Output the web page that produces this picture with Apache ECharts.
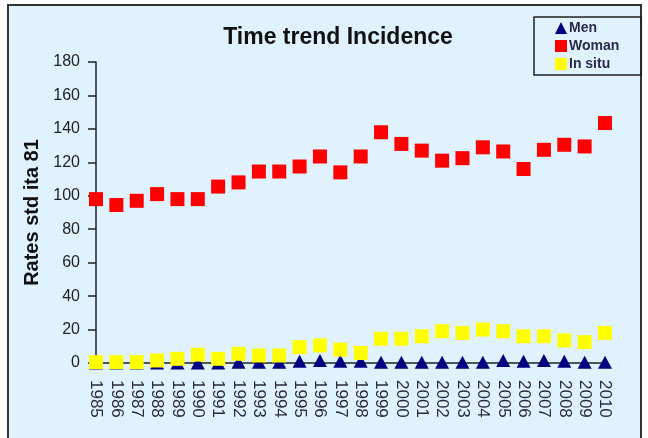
<!DOCTYPE html>
<html>
<head>
<meta charset="utf-8">
<script src="https://cdn.jsdelivr.net/npm/echarts@6/dist/echarts.min.js"></script>
<style>
  html, body { margin: 0; padding: 0; background: #ffffff; }
  #chart { width: 648px; height: 438px; }
</style>
</head>
<body>
<div id="chart"></div>
<script>
// Years on the category axis
const years = ['1985','1986','1987','1988','1989','1990','1991','1992','1993','1994',
  '1995','1996','1997','1998','1999','2000','2001','2002','2003','2004',
  '2005','2006','2007','2008','2009','2010'];

// Standardised incidence rates
const menRates = [0, 0, 0, 0, 0, 0, 0, 0.5, 0.5, 0.5,
  1, 1.5, 1, 1, 0.5, 0.5, 0.5, 0.5, 0.5, 0.5,
  1.5, 1, 1.5, 1, 0.5, 0.5];
const womanRates = [98, 94.5, 97, 101, 98, 98, 105.5, 108, 114.5, 114.5,
  117.5, 123.5, 114, 123.5, 138, 131, 127, 121, 122.5, 129,
  126.5, 116, 127.5, 130.5, 129.5, 143.5];
const inSituRates = [0.5, 0.5, 0.5, 1.5, 2.5, 5, 2.5, 5.5, 4.5, 4.5,
  9.5, 10.5, 8, 6, 14.5, 14.5, 16, 19, 18, 20,
  19, 16, 16, 13.5, 12.5, 18];

const FONT = 'Liberation Sans, Arial, sans-serif';

const chart = echarts.init(document.getElementById('chart'), null, { renderer: 'canvas' });

chart.setOption({
  backgroundColor: '#ffffff',
  animation: false,
  graphic: [{
    type: 'rect',
    z: -10,
    shape: { x: 8, y: 5, width: 633, height: 440 },
    style: { fill: '#dff2fe', stroke: '#333333', lineWidth: 2 }
  }],
  title: {
    text: 'Time trend Incidence',
    left: 333,
    textAlign: 'center',
    top: 21,
    textStyle: {
      fontFamily: FONT,
      fontSize: 23,
      fontWeight: 'bold',
      color: '#111111'
    }
  },
  legend: {
    orient: 'vertical',
    left: 534,
    top: 17,
    itemWidth: 12,
    itemHeight: 12,
    itemGap: 4,
    padding: [4, 22, 4, 21],
    borderColor: '#222222',
    borderWidth: 1.5,
    textStyle: {
      fontFamily: FONT,
      fontSize: 14,
      fontWeight: 'bold',
      color: '#2a2a4a',
      padding: [0, 0, 0, -3]
    },
    data: [
      { name: 'Men', icon: 'triangle' },
      { name: 'Woman', icon: 'rect' },
      { name: 'In situ', icon: 'rect' }
    ]
  },
  grid: { left: 96, right: 43, top: 62, bottom: 75 },
  xAxis: {
    type: 'category',
    data: years,
    boundaryGap: false,
    axisLine: { lineStyle: { color: '#222222', width: 1.5 } },
    axisTick: { show: false },
    axisLabel: {
      rotate: -90,
      interval: 0,
      margin: 17,
      fontFamily: FONT,
      fontSize: 17,
      color: '#2a2a3a'
    },
    splitLine: { show: false }
  },
  yAxis: {
    type: 'value',
    min: 0,
    max: 180,
    interval: 20,
    name: 'Rates std ita 81',
    nameLocation: 'middle',
    nameGap: 52,
    nameTextStyle: {
      fontFamily: FONT,
      fontSize: 20,
      fontWeight: 'bold',
      color: '#111111'
    },
    axisLine: { show: true, lineStyle: { color: '#222222', width: 1.5 } },
    axisTick: { show: true, length: 8, lineStyle: { color: '#222222', width: 1.5 } },
    axisLabel: {
      margin: 16,
      fontFamily: FONT,
      fontSize: 16,
      color: '#222222'
    },
    splitLine: { show: false }
  },
  series: [
    {
      name: 'Men',
      type: 'scatter',
      symbol: 'triangle',
      symbolSize: [14, 13],
      itemStyle: { color: '#000080', opacity: 1 },
      data: menRates,
      z: 2
    },
    {
      name: 'Woman',
      type: 'scatter',
      symbol: 'rect',
      symbolSize: 14,
      itemStyle: { color: '#ff0000', opacity: 1 },
      data: womanRates,
      z: 4
    },
    {
      name: 'In situ',
      type: 'scatter',
      symbol: 'rect',
      symbolSize: 14,
      itemStyle: { color: '#ffff00', opacity: 1 },
      data: inSituRates,
      z: 3
    }
  ]
});
</script>
</body>
</html>
